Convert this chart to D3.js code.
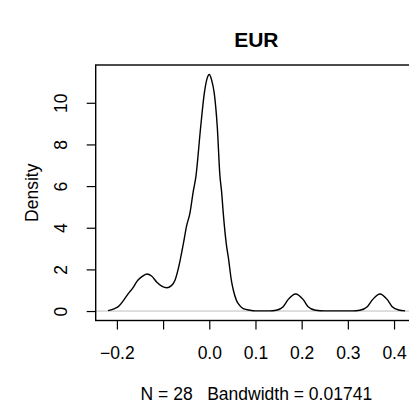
<!DOCTYPE html>
<html>
<head>
<meta charset="utf-8">
<title>EUR density</title>
<script src="https://d3js.org/d3.v7.min.js"></script>
<style>
  body { margin: 0; background: #fff; }
  text { font-family: "Liberation Sans", Arial, sans-serif; fill: #000; white-space: pre; }
</style>
</head>
<body>
<script>
// curve: x values and density values
var densX = [-0.219, -0.205, -0.197, -0.186, -0.175, -0.165, -0.157, -0.146, -0.135, -0.125,
  -0.114, -0.103, -0.092, -0.082, -0.074, -0.068, -0.063, -0.056, -0.049, -0.042,
  -0.035, -0.029, -0.0186, -0.0108, -0.005, 0.0, 0.005, 0.0108, 0.0173, 0.023,
  0.0268, 0.0303, 0.0376, 0.041, 0.048, 0.052, 0.059, 0.0665, 0.0736, 0.088,
  0.10, 0.13, 0.145, 0.160, 0.171, 0.187, 0.203, 0.214, 0.23, 0.25,
  0.31, 0.326, 0.342, 0.354, 0.3695, 0.385, 0.396, 0.41, 0.424];
var densY = [0.02, 0.12, 0.21, 0.50, 0.85, 1.12, 1.41, 1.65, 1.78, 1.68,
  1.40, 1.20, 1.12, 1.22, 1.49, 1.95, 2.45, 3.25, 4.10, 4.69,
  5.70, 6.45, 8.85, 10.45, 11.15, 11.36, 11.10, 10.45, 8.85, 6.5,
  5.7, 4.69, 3.09, 2.61, 1.45, 1.01, 0.50, 0.25, 0.12, 0.04,
  0.01, 0.01, 0.04, 0.21, 0.56, 0.82, 0.56, 0.21, 0.04, 0.01,
  0.01, 0.04, 0.21, 0.56, 0.82, 0.56, 0.21, 0.05, 0.01];
var xTicks = [-0.2, -0.1, 0.0, 0.1, 0.2, 0.3, 0.4];
var xTickLabels = ["\u22120.2", "", "0.0", "0.1", "0.2", "0.3", "0.4"];
var yTicks = [0, 2, 4, 6, 8, 10];
var yTickLabels = ["0", "2", "4", "6", "8", "10"];
var title = "EUR";
var xLabel = "N = 28   Bandwidth = 0.01741";
var yLabel = "Density";

var width = 409, height = 410;
var plot = {left: 95.7, right: 417, top: 65, bottom: 320.5};
var fontSize = "17.5px";

var svg = d3.select("body").append("svg")
  .attr("width", width)
  .attr("height", height);

var x = d3.scaleLinear().domain([-0.2459, 0.4497]).range([plot.left, plot.right]);
var y = d3.scaleLinear().domain([-0.454, 11.814]).range([plot.bottom, plot.top]);

// zero line
svg.append("line")
  .attr("x1", plot.left).attr("x2", plot.right)
  .attr("y1", y(0)).attr("y2", y(0))
  .attr("stroke", "#bebebe").attr("stroke-width", 1);

// density curve
var pts = densX.map(function(d, i) { return [d, densY[i]]; });
var line = d3.line()
  .x(function(d) { return x(d[0]); })
  .y(function(d) { return y(d[1]); })
  .curve(d3.curveMonotoneX);
svg.append("path")
  .datum(pts)
  .attr("d", line)
  .attr("fill", "none")
  .attr("stroke", "#000")
  .attr("stroke-width", 1.4);

// box
svg.append("rect")
  .attr("x", plot.left).attr("y", plot.top)
  .attr("width", plot.right - plot.left)
  .attr("height", plot.bottom - plot.top)
  .attr("fill", "none").attr("stroke", "#000").attr("stroke-width", 1.4);

// x axis
var gx = svg.append("g")
  .attr("transform", "translate(0," + plot.bottom + ")")
  .call(d3.axisBottom(x).tickValues(xTicks).tickSize(9).tickSizeOuter(0)
    .tickFormat(function(d, i) { return xTickLabels[i]; }));
gx.select(".domain").remove();
gx.selectAll("line").attr("stroke", "#000").attr("stroke-width", 1.2);
gx.selectAll("text")
  .attr("y", 38).attr("dy", 0)
  .style("font-family", "'Liberation Sans', Arial, sans-serif")
  .style("font-size", fontSize).attr("fill", "#000");

// y axis
var gy = svg.append("g")
  .attr("transform", "translate(" + plot.left + ",0)")
  .call(d3.axisLeft(y).tickValues(yTicks).tickSize(9).tickSizeOuter(0)
    .tickFormat(function(d, i) { return yTickLabels[i]; }));
gy.select(".domain").remove();
gy.selectAll("line").attr("stroke", "#000").attr("stroke-width", 1.2);
gy.selectAll("text")
  .attr("x", 0).attr("y", 0).attr("dy", 0)
  .attr("transform", "translate(-29,0) rotate(-90)")
  .attr("text-anchor", "middle")
  .style("font-family", "'Liberation Sans', Arial, sans-serif")
  .style("font-size", fontSize).attr("fill", "#000");

// titles
var cx = (plot.left + plot.right) / 2;
svg.append("text")
  .attr("x", cx).attr("y", 47)
  .attr("text-anchor", "middle")
  .style("font-size", "21px").style("font-weight", "bold")
  .text(title);

svg.append("text")
  .attr("x", cx).attr("y", 400)
  .attr("text-anchor", "middle")
  .style("font-size", fontSize)
  .text(xLabel);

svg.append("text")
  .attr("transform", "translate(38," + ((plot.top + plot.bottom) / 2) + ") rotate(-90)")
  .attr("text-anchor", "middle")
  .style("font-size", fontSize)
  .text(yLabel);
</script>
</body>
</html>
